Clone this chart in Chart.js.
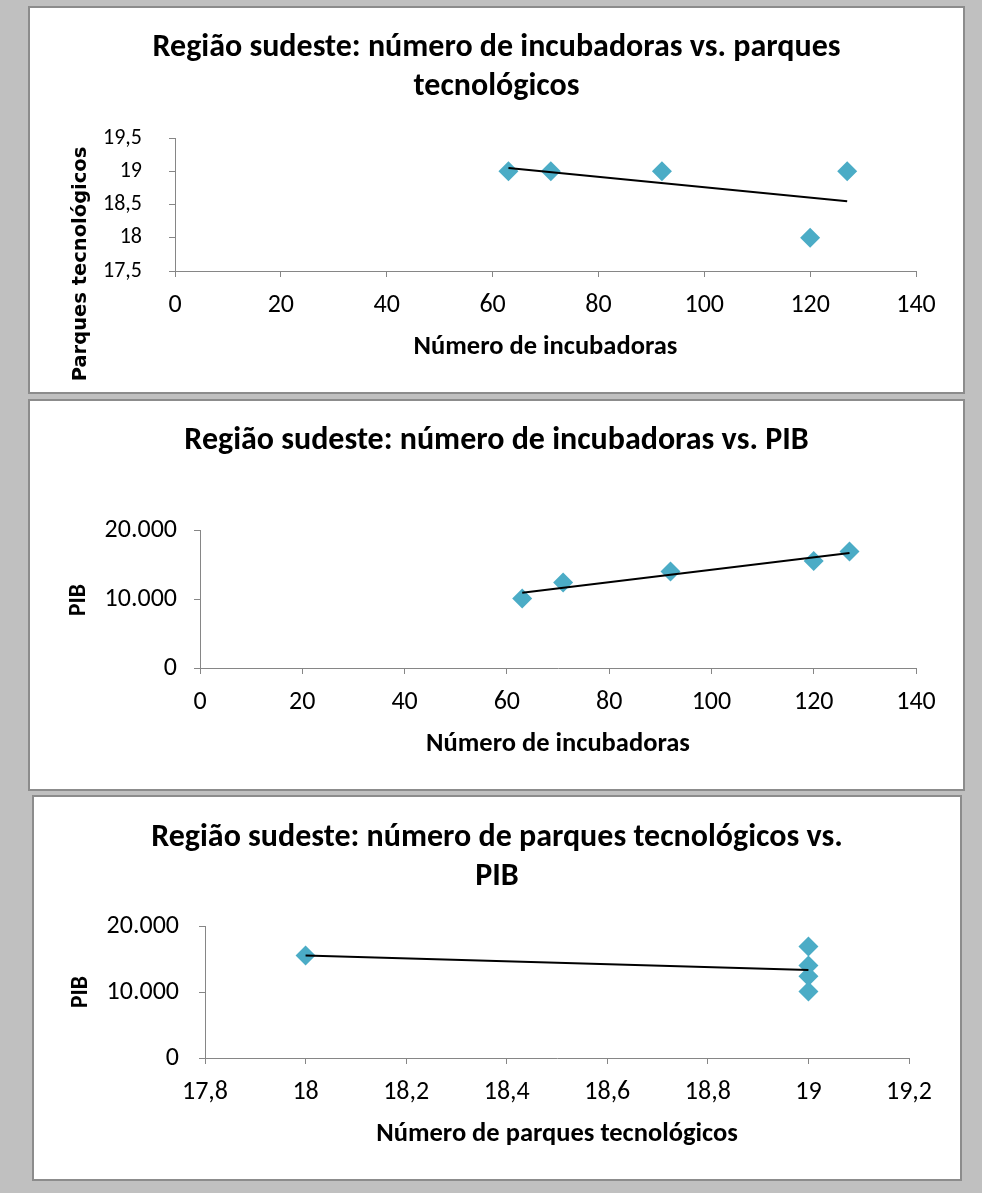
<!DOCTYPE html>
<html>
<head>
<meta charset="utf-8">
<script src="https://cdn.jsdelivr.net/npm/chart.js@4/dist/chart.umd.min.js"></script>
<style>
    body { margin: 0; background: #c0c0c0; width: 982px; height: 1193px; position: relative; overflow: hidden; }
    .panel { position: absolute; background: #fff; border: 2px solid #8c8c8c; box-sizing: border-box; }
    .panel canvas { display: block; }
</style>
</head>
<body>
<div class="panel" style="left:28px;top:6px;width:937px;height:388px"><canvas id="c1" width="933" height="384"></canvas></div>
<div class="panel" style="left:28px;top:399px;width:937px;height:392px"><canvas id="c2" width="933" height="388"></canvas></div>
<div class="panel" style="left:32px;top:795px;width:930px;height:386px"><canvas id="c3" width="926" height="382"></canvas></div>
<script>
// Data (Região sudeste)
const incubadoras = [63, 71, 92, 120, 127];
const parques = [19, 19, 19, 18, 19];
const pib = [10130, 12450, 14050, 15600, 16960];

// Trend line end points (Excel linear trendlines)
const trend1X = [63, 127];
const trend1Y = [19.05, 18.55];
const trend2X = [63, 127];
const trend2Y = [10980, 16770];
const trend3X = [18, 19];
const trend3Y = [15600, 13400];

// Tick values
const ticksIncub = [0, 20, 40, 60, 80, 100, 120, 140];
const ticksParquesY = [17.5, 18, 18.5, 19, 19.5];
const ticksPib = [0, 10000, 20000];
const ticksParquesX = [17.8, 18, 18.2, 18.4, 18.6, 18.8, 19, 19.2];

const FONT = 'Carlito, Calibri, Lato, sans-serif';
const AXIS_GREY = '#868686';
const MARKER = '#4bacc6';

// Rotated y axis title, drawn where Excel put it
const sideTitle = {
    id: 'sideTitle',
    afterDraw(chart, args, opts) {
        const ctx = chart.ctx;
        ctx.save();
        ctx.translate(opts.x, opts.y);
        ctx.rotate(-Math.PI / 2);
        ctx.font = 'bold ' + opts.size + 'px ' + opts.family;
        ctx.fillStyle = '#000';
        ctx.textAlign = 'center';
        ctx.textBaseline = 'middle';
        ctx.fillText(opts.text, 0, 0);
        ctx.restore();
    }
};

function toPoints(xs, ys) {
    return xs.map((x, i) => ({ x: x, y: ys[i] }));
}

function scatterChart(id, o) {
    const ctx = document.getElementById(id).getContext('2d');
    return new Chart(ctx, {
        type: 'scatter',
        data: {
            datasets: [{
                // trend line on top of the markers
                data: toPoints(o.trendX, o.trendY),
                showLine: true,
                borderColor: '#000',
                borderWidth: 2,
                pointRadius: 0,
                pointHoverRadius: 0
            }, {
                data: toPoints(o.xs, o.ys),
                pointStyle: 'rectRot',
                pointRadius: 10,
                pointHoverRadius: 10,
                backgroundColor: MARKER,
                borderColor: MARKER,
                borderWidth: 0
            }]
        },
        options: {
            responsive: false,
            animation: false,
            locale: 'pt-BR',
            layout: { padding: { left: o.side, right: o.side, top: 0, bottom: 0 } },
            plugins: {
                legend: { display: false },
                tooltip: { enabled: false },
                title: {
                    display: true,
                    text: o.title,
                    color: '#000',
                    font: { family: FONT, size: 32, weight: 'bold', lineHeight: '38.75px' },
                    padding: o.titlePad
                },
                sideTitle: o.yTitle
            },
            scales: {
                x: {
                    type: 'linear',
                    min: o.xTicks[0],
                    max: o.xTicks[o.xTicks.length - 1],
                    afterBuildTicks: (s) => { s.ticks = o.xTicks.map(v => ({ value: v })); },
                    afterFit: (s) => { s.height = o.xHeight; },
                    grid: { drawOnChartArea: false, tickLength: 6, color: AXIS_GREY },
                    border: { color: AXIS_GREY },
                    ticks: {
                        color: '#000', padding: 13, maxRotation: 0, autoSkip: false,
                        font: { family: FONT, size: 26, lineHeight: 1.2 },
                        callback: (v) => v.toLocaleString('pt-BR')
                    },
                    title: {
                        display: true, text: o.xTitle, color: '#000',
                        font: { family: FONT, size: 26.5, weight: 'bold', lineHeight: 1.2 },
                        padding: { top: 0, bottom: 29 }
                    }
                },
                y: {
                    type: 'linear',
                    min: o.yTicks[0],
                    max: o.yTicks[o.yTicks.length - 1],
                    afterBuildTicks: (s) => { s.ticks = o.yTicks.map(v => ({ value: v })); },
                    afterFit: (s) => { s.width = o.yWidth; },
                    grid: { drawOnChartArea: false, tickLength: 6, color: AXIS_GREY },
                    border: { color: AXIS_GREY },
                    ticks: {
                        color: '#000', padding: o.yPad,
                        font: { family: FONT, size: o.yTickSize },
                        callback: (v) => v.toLocaleString('pt-BR')
                    }
                }
            }
        },
        plugins: [sideTitle]
    });
}

// Chart 1: incubadoras vs parques
scatterChart('c1', {
    xs: incubadoras, ys: parques, trendX: trend1X, trendY: trend1Y,
    xTicks: ticksIncub, yTicks: ticksParquesY,
    title: ['Região sudeste: número de incubadoras vs. parques', 'tecnológicos'],
    titlePad: { top: 21, bottom: 31.5 },
    xTitle: 'Número de incubadoras',
    yTitle: { text: 'Parques tecnológicos', x: 51, y: 256, size: 19.5, family: '"DejaVu Sans"' },
    side: 47, yWidth: 98, yPad: 27, yTickSize: 22, xHeight: 121
});

// Chart 2: incubadoras vs PIB
scatterChart('c2', {
    xs: incubadoras, ys: pib, trendX: trend2X, trendY: trend2Y,
    xTicks: ticksIncub, yTicks: ticksPib,
    title: 'Região sudeste: número de incubadoras vs. PIB',
    titlePad: { top: 21, bottom: 70 },
    xTitle: 'Número de incubadoras',
    yTitle: { text: 'PIB', x: 49, y: 199, size: 23.5, family: FONT },
    side: 47, yWidth: 123, yPad: 17, yTickSize: 26, xHeight: 121
});

// Chart 3: parques vs PIB
scatterChart('c3', {
    xs: parques, ys: pib, trendX: trend3X, trendY: trend3Y,
    xTicks: ticksParquesX, yTicks: ticksPib,
    title: ['Região sudeste: número de parques tecnológicos vs.', 'PIB'],
    titlePad: { top: 22, bottom: 30 },
    xTitle: 'Número de parques tecnológicos',
    yTitle: { text: 'PIB', x: 47, y: 195, size: 23.5, family: FONT },
    side: 51, yWidth: 120, yPad: 20, yTickSize: 26, xHeight: 121
});
</script>
</body>
</html>
